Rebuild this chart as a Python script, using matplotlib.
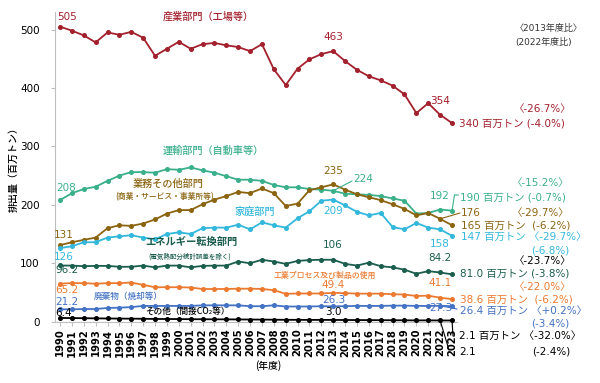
import matplotlib
matplotlib.use('Agg')
import matplotlib.pyplot as plt

years = list(range(1990, 2024))
industry = [505, 498, 490, 478, 495, 491, 496, 486, 455, 467, 479, 467, 475, 477, 473, 470, 463,
            475, 432, 405, 433, 449, 458, 463, 446, 431, 420, 413, 404, 389, 357, 374, 354, 340]
transport = [208, 220, 227, 231, 241, 250, 256, 256, 255, 261, 260, 264, 259, 255, 249, 243, 243,
             241, 234, 230, 230, 227, 226, 224, 219, 218, 217, 215, 211, 207, 185, 186, 192, 190]
commercial = [131, 136, 140, 144, 160, 165, 164, 168, 175, 185, 191, 191, 201, 209, 215, 222, 220,
              228, 220, 198, 202, 225, 230, 235, 226, 218, 213, 208, 201, 193, 182, 186, 176, 165]
residential = [126, 129, 136, 136, 144, 146, 148, 144, 141, 150, 153, 150, 160, 161, 161, 166, 158,
               170, 165, 161, 177, 189, 207, 209, 199, 188, 182, 186, 162, 158, 169, 161, 158, 147]
energy = [96.2, 96, 95, 95.5, 95.5, 94, 94, 96, 93, 96, 96, 93, 95.5, 96, 96, 103, 100,
          106, 103, 99, 104, 105.5, 106, 106, 99, 96, 101, 95, 93, 89, 82, 86.5, 84.2, 81.0]
process = [65.2, 66, 66, 65, 66, 66, 67, 63, 59, 59, 59, 58.5, 56, 56, 56, 56.5, 56.5,
           56, 54, 47.7, 48.3, 48.3, 48.3, 49.4, 48.8, 48, 48, 48, 47, 46.5, 44, 44.5, 41.1, 38.6]
waste = [21.2, 21.2, 21.7, 21.7, 23.5, 24, 25, 27, 27, 27, 27, 27, 28, 28, 28, 28, 26.5,
         26.5, 28, 26, 26, 26, 26.5, 26.3, 26.5, 27, 27, 27, 27.5, 27.5, 27, 27, 27.3, 26.4]
other = [6.4, 6.2, 6.0, 5.7, 5.5, 5.3, 5.2, 5.0, 4.7, 4.6, 4.5, 4.3, 4.2, 4.1, 4.0, 3.9, 3.7,
         3.6, 3.4, 3.2, 3.2, 3.1, 3.1, 3.0, 2.9, 2.8, 2.7, 2.6, 2.5, 2.4, 2.2, 2.3, 2.1, 2.1]

yticks = [0, 100, 200, 300, 400, 500]

RED = '#A3202D'
GREEN = '#3AB08A'
BROWN = '#8B6410'
CYAN = '#33B8DC'
DKGREEN = '#1B5E4E'
ORANGE = '#EB7A30'
BLUE = '#4472C4'
BLACK = '#000000'
GRAY = '#333333'

NUM = ['DejaVu Sans', 'Noto Sans CJK JP']
JP = ['Noto Sans CJK JP', 'DejaVu Sans']

W, H = 600, 383
fig = plt.figure(figsize=(6, 3.83), dpi=100)
ax = fig.add_axes([55 / W, 1 - 321.7 / H, (457 - 55) / W, (321.7 - 12) / H])

series = [(industry, RED), (transport, GREEN), (commercial, BROWN), (residential, CYAN),
          (energy, DKGREEN), (process, ORANGE), (waste, BLUE), (other, BLACK)]
for vals, c in series:
    ax.plot(years, vals, color=c, lw=1.3, marker='o', ms=2.6, zorder=3)

ax.set_xlim(1989.58, 2023.42)
ax.set_ylim(0, 530)
ax.set_yticks(yticks)
ax.set_xticks(years)
for sp in ['top', 'right']:
    ax.spines[sp].set_visible(False)
for sp in ['left', 'bottom']:
    ax.spines[sp].set_color('#BFBFBF')
    ax.spines[sp].set_linewidth(0.8)
ax.tick_params(axis='both', colors='#BFBFBF', length=3, width=0.8)
ax.tick_params(axis='y', labelcolor='black', labelsize=7.5, pad=8)
ax.tick_params(axis='x', labelcolor='black', labelsize=7.2, pad=2)
for lab in ax.get_xticklabels():
    lab.set_rotation(90)
    lab.set_fontweight('bold')
    lab.set_family(NUM)
for lab in ax.get_yticklabels():
    lab.set_family(NUM)


def ptxt(x, y, s, color, size, ha='left', va='center', fam=NUM, **kw):
    fig.text(x / W, 1 - y / H, s, color=color, fontsize=size, ha=ha, va=va, family=fam, **kw)


def jtxt(x, y, s, color, size, **kw):
    kw.setdefault('fontweight', 'medium')
    ptxt(x, y, s, color, size, ha='center', fam=JP, **kw)


def leader(year, val, x, y, color):
    ax.annotate('', xy=(year, val), xytext=(x, H - y), textcoords='figure pixels',
                arrowprops=dict(arrowstyle='-', color=color, lw=0.8, shrinkA=0, shrinkB=0))


# axis labels
jtxt(14, 167, '排出量（百万トン）', BLACK, 7.2, rotation=90)
jtxt(268, 366, '(年度)', BLACK, 7)

# series names
jtxt(208, 17, '産業部門（工場等）', RED, 7.3)
jtxt(213, 151, '運輸部門（自動車等）', GREEN, 7.3)
jtxt(168, 184, '業務その他部門', BROWN, 7.3)
jtxt(165, 197, '(商業・サービス・事業所等)', BROWN, 5.6)
jtxt(255, 212, '家庭部門', CYAN, 7.3)
jtxt(191, 242, 'エネルギー転換部門', DKGREEN, 7.4, fontweight='bold')
jtxt(190, 257, '(電気熱配分統計誤差を除く)', DKGREEN, 4.7)
jtxt(325, 275, '工業プロセス及び製品の使用', ORANGE, 5.7)
jtxt(128, 296, '廃棄物（焼却等）', BLUE, 6.2)
jtxt(187, 311, 'その他（間接CO₂等）', BLACK, 6.2)

# left values (1990)
ptxt(57, 17, f'{industry[0]:g}', RED, 7.5)
ptxt(56, 188, f'{transport[0]:g}', GREEN, 7.5)
ptxt(54, 235, f'{commercial[0]:g}', BROWN, 7.5)
ptxt(54, 257, f'{residential[0]:g}', CYAN, 7.5)
ptxt(55, 270, f'{energy[0]:g}', DKGREEN, 7.5)
ptxt(55, 290, f'{process[0]:g}', ORANGE, 7.5)
ptxt(55, 302, f'{waste[0]:g}', BLUE, 7.5)
ptxt(55, 313, f'{other[0]:g}', BLACK, 7.5)

# 2013 values
i13 = years.index(2013)
ptxt(333, 37, f'{industry[i13]:g}', RED, 7.5, ha='center')
ptxt(363, 179, f'{transport[i13]:g}', GREEN, 7.5, ha='center')
leader(2013, transport[i13], 352, 181, GREEN)
ptxt(333, 171, f'{commercial[i13]:g}', BROWN, 7.5, ha='center')
ptxt(333, 211, f'{residential[i13]:g}', CYAN, 7.5, ha='center')
ptxt(333, 245, f'{energy[i13]:g}', DKGREEN, 7.5, ha='center')
ptxt(333, 285, f'{process[i13]:g}', ORANGE, 7.5, ha='center')
ptxt(334, 300, f'{waste[i13]:g}', BLUE, 7.5, ha='center')
ptxt(333, 312, f'{other[i13]:.1f}', BLACK, 7.5, ha='center')

# 2022 values
ptxt(440, 101, f'{industry[-2]:g}', RED, 7.5, ha='center')
ptxt(440, 196, f'{transport[-2]:g}', GREEN, 7.5, ha='center')
ptxt(461, 213, f'{commercial[-2]:g}', BROWN, 7.5)
leader(2022, commercial[-2], 460, 213, BROWN)
ptxt(440, 244, f'{residential[-2]:g}', CYAN, 7.5, ha='center')
ptxt(440, 258, f'{energy[-2]:g}', DKGREEN, 7.5, ha='center')
ptxt(440, 283, f'{process[-2]:g}', ORANGE, 7.5, ha='center')
ptxt(441, 308, f'{waste[-2]:g}', BLUE, 7.5, ha='center')
ptxt(459, 352, f'{other[-2]:g}', BLACK, 7.5)
leader(2022, other[-2], 449, 350, BLACK)

# 2023 values and ratios
ptxt(515, 28, '〈2013年度比〉', GRAY, 6.5)
ptxt(515, 43, '(2022年度比)', GRAY, 6.5)

ptxt(571, 109, '〈-26.7%〉', RED, 7.5, ha='right')
ptxt(459, 124, f'{industry[-1]:g} 百万トン (-4.0%)', RED, 7.5)

ptxt(569, 183, '〈-15.2%〉', GREEN, 7.5, ha='right')
ptxt(460, 197, f'{transport[-1]:g} 百万トン (-0.7%)', GREEN, 7.5)
leader(2023, transport[-1], 454.5, 195, GREEN)
ax.annotate('', xy=(454.5, H - 195), xycoords='figure pixels', xytext=(458.5, H - 195),
            textcoords='figure pixels', arrowprops=dict(arrowstyle='-', color=GREEN, lw=0.8,
                                                        shrinkA=0, shrinkB=0))

ptxt(569, 213, '〈-29.7%〉', BROWN, 7.5, ha='right')
ptxt(461, 225, f'{commercial[-1]:g} 百万トン  (-6.2%)', BROWN, 7.5)

ptxt(461, 237, f'{residential[-1]:g} 百万トン 〈-29.7%〉', CYAN, 7.5)
ptxt(569, 250, '(-6.8%)', CYAN, 7.5, ha='right')

ptxt(571, 261, '〈-23.7%〉', BLACK, 7.5, ha='right')
ptxt(460, 274, f'{energy[-1]:.1f} 百万トン (-3.8%)', DKGREEN, 7.5)

ptxt(571, 287, '〈-22.0%〉', ORANGE, 7.5, ha='right')
ptxt(460, 299, f'{process[-1]:g} 百万トン  (-6.2%)', ORANGE, 7.5)

ptxt(460, 311, f'{waste[-1]:g} 百万トン 〈+0.2%〉', BLUE, 7.5)
ptxt(569, 323, '(-3.4%)', BLUE, 7.5, ha='right')
leader(2022, waste[-2], 457, 309, BLUE)

ptxt(459, 336, f'{other[-1]:g} 百万トン 〈-32.0%〉', BLACK, 7.5)
leader(2023, other[-1], 453, 336, BLACK)
ptxt(570, 352, '(-2.4%)', BLACK, 7.5, ha='right')

fig.savefig('out.png', dpi=100)
